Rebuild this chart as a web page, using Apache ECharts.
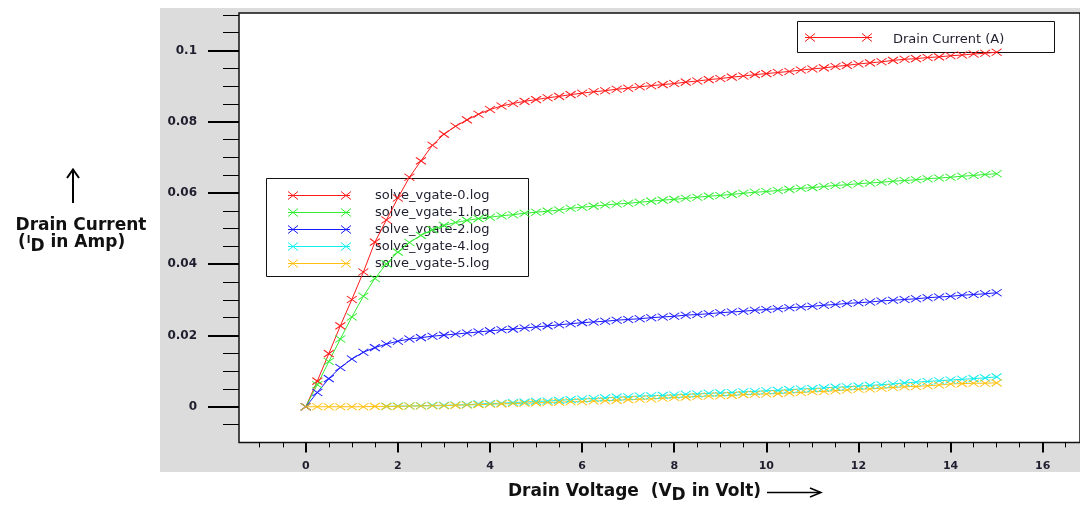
<!DOCTYPE html>
<html>
<head>
<meta charset="utf-8">
<script src="https://cdn.jsdelivr.net/npm/echarts@6/dist/echarts.min.js"></script>
<style>html,body{margin:0;padding:0;background:#fff;}#c{width:1080px;height:506px;}</style>
</head>
<body>
<div id="c"></div>
<script>
// ---------- data ----------
const vd = [0,0.25,0.5,0.75,1,1.25,1.5,1.75,2,2.25,2.5,2.75,3,3.25,3.5,3.75,4,4.25,4.5,4.75,5,5.25,5.5,5.75,6,6.25,6.5,6.75,7,7.25,7.5,7.75,8,8.25,8.5,8.75,9,9.25,9.5,9.75,10,10.25,10.5,10.75,11,11.25,11.5,11.75,12,12.25,12.5,12.75,13,13.25,13.5,13.75,14,14.25,14.5,14.75,15];
const idVgate0 = [0,0.0072,0.0149,0.0227,0.0301,0.0378,0.0462,0.0524,0.0586,0.0644,0.0690,0.0734,0.0765,0.0787,0.0805,0.0821,0.0834,0.0844,0.0851,0.0857,0.0862,0.0867,0.0871,0.0876,0.0880,0.0884,0.0887,0.0891,0.0894,0.0898,0.0901,0.0904,0.0907,0.0911,0.0914,0.0918,0.0921,0.0925,0.0928,0.0932,0.0935,0.0938,0.0941,0.0945,0.0948,0.0951,0.0955,0.0958,0.0962,0.0965,0.0968,0.0972,0.0975,0.0977,0.0980,0.0982,0.0985,0.0987,0.0990,0.0992,0.0995];
const idVgate1 = [0,0.0062,0.0127,0.0190,0.0252,0.0310,0.0360,0.0401,0.0434,0.0461,0.0481,0.0497,0.0509,0.0517,0.0523,0.0528,0.0532,0.0536,0.0539,0.0543,0.0546,0.0549,0.0552,0.0557,0.0560,0.0563,0.0566,0.0569,0.0571,0.0574,0.0577,0.0580,0.0582,0.0585,0.0588,0.0591,0.0593,0.0596,0.0599,0.0602,0.0604,0.0607,0.0610,0.0613,0.0615,0.0618,0.0621,0.0623,0.0626,0.0628,0.0630,0.0633,0.0635,0.0637,0.0640,0.0642,0.0644,0.0647,0.0649,0.0652,0.0654];
const idVgate2 = [0,0.0040,0.0079,0.0110,0.0134,0.0153,0.0166,0.0176,0.0184,0.0190,0.0194,0.0198,0.0201,0.0204,0.0207,0.0210,0.0213,0.0216,0.0218,0.0221,0.0224,0.0227,0.0230,0.0233,0.0236,0.0238,0.0240,0.0243,0.0245,0.0247,0.0250,0.0252,0.0254,0.0257,0.0259,0.0261,0.0264,0.0266,0.0268,0.0271,0.0273,0.0275,0.0278,0.0280,0.0282,0.0285,0.0287,0.0290,0.0292,0.0294,0.0297,0.0299,0.0301,0.0303,0.0306,0.0308,0.0310,0.0313,0.0315,0.0317,0.0320];
const idVgate4 = [null,null,null,null,null,null,null,0.0001,0.0002,0.0002,0.0003,0.0004,0.0004,0.0005,0.0006,0.0008,0.0009,0.0010,0.0012,0.0013,0.0015,0.0016,0.0018,0.0020,0.0022,0.0023,0.0025,0.0027,0.0028,0.0030,0.0031,0.0032,0.0033,0.0035,0.0036,0.0038,0.0039,0.0040,0.0042,0.0043,0.0045,0.0046,0.0048,0.0050,0.0051,0.0053,0.0055,0.0056,0.0058,0.0060,0.0062,0.0064,0.0067,0.0069,0.0071,0.0073,0.0075,0.0077,0.0079,0.0081,0.0084];
const idVgate5 = [0,0,0,0,0,0,0.0001,0.0001,0.0001,0.0002,0.0002,0.0003,0.0003,0.0004,0.0005,0.0006,0.0007,0.0008,0.0009,0.0010,0.0011,0.0012,0.0013,0.0014,0.0014,0.0016,0.0017,0.0018,0.0020,0.0021,0.0022,0.0024,0.0026,0.0027,0.0029,0.0030,0.0031,0.0032,0.0034,0.0035,0.0036,0.0037,0.0039,0.0040,0.0042,0.0043,0.0045,0.0047,0.0049,0.0050,0.0052,0.0054,0.0056,0.0057,0.0059,0.0061,0.0064,0.0065,0.0066,0.0066,0.0067];

const seriesNames = ['solve_vgate-0.log','solve_vgate-1.log','solve_vgate-2.log','solve_vgate-4.log','solve_vgate-5.log'];
const seriesColors = ['#ff1a1a','#33ee33','#1a1aff','#11eeee','#ffc010'];
const seriesValues = [idVgate0, idVgate1, idVgate2, idVgate4, idVgate5];
const legendTopText = 'Drain Current (A)';

const xMajorTicks = [0,2,4,6,8,10,12,14,16];
const xMinorTicks = [-1,-0.5,0.5,1,1.5,2.5,3,3.5,4.5,5,5.5,6.5,7,7.5,8.5,9,9.5,10.5,11,11.5,12.5,13,13.5,14.5,15,15.5,16.5];
const yMajorTicks = [0,0.02,0.04,0.06,0.08,0.1];
const yMinorTicks = [-0.005,0.005,0.01,0.015,0.025,0.03,0.035,0.045,0.05,0.055,0.065,0.07,0.075,0.085,0.09,0.095,0.105,0.11];

// ---------- chart ----------
const chart = echarts.init(document.getElementById('c'), null, {renderer:'canvas'});
const FONT = '"DejaVu Sans", Verdana, sans-serif';
const cross = 'path://M0,0L10,7M10,0L0,7';
const mctx = document.createElement('canvas').getContext('2d');
function tw(t, size, weight){ mctx.font = (weight||'normal') + ' ' + size + 'px ' + FONT; return mctx.measureText(t).width; }

const xRange = {min:-1.45, max:16.81};
const yRange = {min:-0.01, max:0.1105};
const labelColor = '#1e1e2e';

const series = seriesValues.map((vals, i) => ({
  type:'line', name: seriesNames[i], xAxisIndex:0, yAxisIndex:0,
  data: vd.map((x, k) => [x, vals[k]]),
  symbol: cross, symbolSize:[10,7], showAllSymbol:true, connectNulls:false,
  lineStyle:{color: seriesColors[i], width:1},
  itemStyle:{color:'none', borderColor: seriesColors[i], borderWidth:1},
  emphasis:{disabled:true}, silent:true, z: 3
}));

const graphic = [];
graphic.push({type:'rect', z:-5, shape:{x:160,y:8,width:920,height:464}, style:{fill:'#dcdcdc'}});

function crossMark(cx, cy, color){
  return [
    {type:'line', z:1, shape:{x1:cx-5,y1:cy-4,x2:cx+5,y2:cy+4}, style:{stroke:color,lineWidth:1}},
    {type:'line', z:1, shape:{x1:cx+5,y1:cy-4,x2:cx-5,y2:cy+4}, style:{stroke:color,lineWidth:1}}
  ];
}
// legend (top right)
graphic.push({type:'rect', z:1, shape:{x:797.5,y:21.5,width:257,height:31}, style:{fill:'none',stroke:'#111',lineWidth:1}});
graphic.push({type:'line', z:1, shape:{x1:805,y1:37.5,x2:872,y2:37.5}, style:{stroke:seriesColors[0],lineWidth:1}});
graphic.push(...crossMark(810,37.5,seriesColors[0]), ...crossMark(867,37.5,seriesColors[0]));
graphic.push({type:'text', z:1, x:893, y:40, style:{text:legendTopText, font:'13px '+FONT, fill:labelColor, verticalAlign:'middle'}});

// legend (series list)
graphic.push({type:'rect', z:1, shape:{x:266.5,y:178.5,width:262,height:98}, style:{fill:'none',stroke:'#111',lineWidth:1}});
const rowY = [195,212,229,246,263];
seriesNames.forEach((n, i) => {
  const y = rowY[i] + 0.5;
  graphic.push({type:'line', z:1, shape:{x1:288,y1:y,x2:350,y2:y}, style:{stroke:seriesColors[i],lineWidth:1}});
  graphic.push(...crossMark(293,y,seriesColors[i]), ...crossMark(346,y,seriesColors[i]));
  graphic.push({type:'text', z:1, x:375, y:rowY[i]+1, style:{text:n, font:'13px '+FONT, fill:labelColor, verticalAlign:'middle'}});
});

// x-axis title
const tFont = 17;
const p1 = 'Drain Voltage  (V', p2 = 'D', p3 = ' in Volt)';
let tx = 508;
graphic.push({type:'text', x:tx, y:492, style:{text:p1, font:'bold '+tFont+'px '+FONT, fill:'#111', verticalAlign:'middle'}});
tx += tw(p1, tFont, 'bold');
graphic.push({type:'text', x:tx, y:496, style:{text:p2, font:'bold '+tFont+'px '+FONT, fill:'#111', verticalAlign:'middle'}});
tx += tw(p2, tFont, 'bold');
graphic.push({type:'text', x:tx, y:492, style:{text:p3, font:'bold '+tFont+'px '+FONT, fill:'#111', verticalAlign:'middle'}});
graphic.push({type:'line', shape:{x1:767,y1:492.5,x2:820,y2:492.5}, style:{stroke:'#000',lineWidth:1.5}});
graphic.push({type:'polyline', shape:{points:[[810,488],[821,492.5],[810,497]]}, style:{stroke:'#000',lineWidth:1.5,fill:'none'}});

// y-axis title
graphic.push({type:'line', shape:{x1:73,y1:203,x2:73,y2:170}, style:{stroke:'#000',lineWidth:2}});
graphic.push({type:'polyline', shape:{points:[[67,178],[73,169.5],[79,178]]}, style:{stroke:'#000',lineWidth:2,fill:'none'}});
graphic.push({type:'text', x:81, y:226, style:{text:'Drain Current', font:'bold '+tFont+'px '+FONT, fill:'#111', align:'center', verticalAlign:'middle'}});
let yx = 18;
const q1 = '(', q2 = 'I', q3 = 'D', q4 = ' in Amp)';
graphic.push({type:'text', x:yx, y:243, style:{text:q1, font:'bold '+tFont+'px '+FONT, fill:'#111', verticalAlign:'middle'}});
yx += tw(q1, tFont, 'bold');
graphic.push({type:'text', x:yx+1, y:240, style:{text:q2, font:'bold 10px '+FONT, fill:'#111', verticalAlign:'middle'}});
yx += tw(q2, 10, 'bold') + 1;
graphic.push({type:'text', x:yx, y:247, style:{text:q3, font:'bold '+tFont+'px '+FONT, fill:'#111', verticalAlign:'middle'}});
yx += tw(q3, tFont, 'bold');
graphic.push({type:'text', x:yx, y:243, style:{text:q4, font:'bold '+tFont+'px '+FONT, fill:'#111', verticalAlign:'middle'}});

const option = {
  animation:false,
  backgroundColor:'#ffffff',
  grid:{left:239, right:-10, top:13, bottom:63.6, show:true, backgroundColor:'#ffffff', borderColor:'#111', borderWidth:1.5, containLabel:false},
  xAxis:[
    {type:'value', gridIndex:0, position:'bottom', min:xRange.min, max:xRange.max,
     axisLine:{show:false, onZero:false}, splitLine:{show:false},
     axisTick:{show:true, customValues:xMajorTicks, length:10, lineStyle:{color:'#000', width:2}},
     axisLabel:{show:true, customValues:xMajorTicks, margin:18, fontFamily:FONT, fontSize:11, fontWeight:'bold', color:labelColor}},
    {type:'value', gridIndex:0, position:'bottom', min:xRange.min, max:xRange.max,
     axisLine:{show:false, onZero:false}, splitLine:{show:false},
     axisTick:{show:true, customValues:xMinorTicks, length:5, lineStyle:{color:'#000', width:1}},
     axisLabel:{show:false}}
  ],
  yAxis:[
    {type:'value', gridIndex:0, position:'left', min:yRange.min, max:yRange.max,
     axisLine:{show:false, onZero:false}, splitLine:{show:false},
     axisTick:{show:true, customValues:yMajorTicks, length:31, lineStyle:{color:'#000', width:2}},
     axisLabel:{show:true, customValues:yMajorTicks, margin:42, fontFamily:FONT, fontSize:12, fontWeight:'bold', color:labelColor}},
    {type:'value', gridIndex:0, position:'left', min:yRange.min, max:yRange.max,
     axisLine:{show:false, onZero:false}, splitLine:{show:false},
     axisTick:{show:true, customValues:yMinorTicks, length:16, lineStyle:{color:'#000', width:1}},
     axisLabel:{show:false}}
  ],
  graphic: graphic,
  series: series
};
chart.setOption(option);
</script>
</body>
</html>
